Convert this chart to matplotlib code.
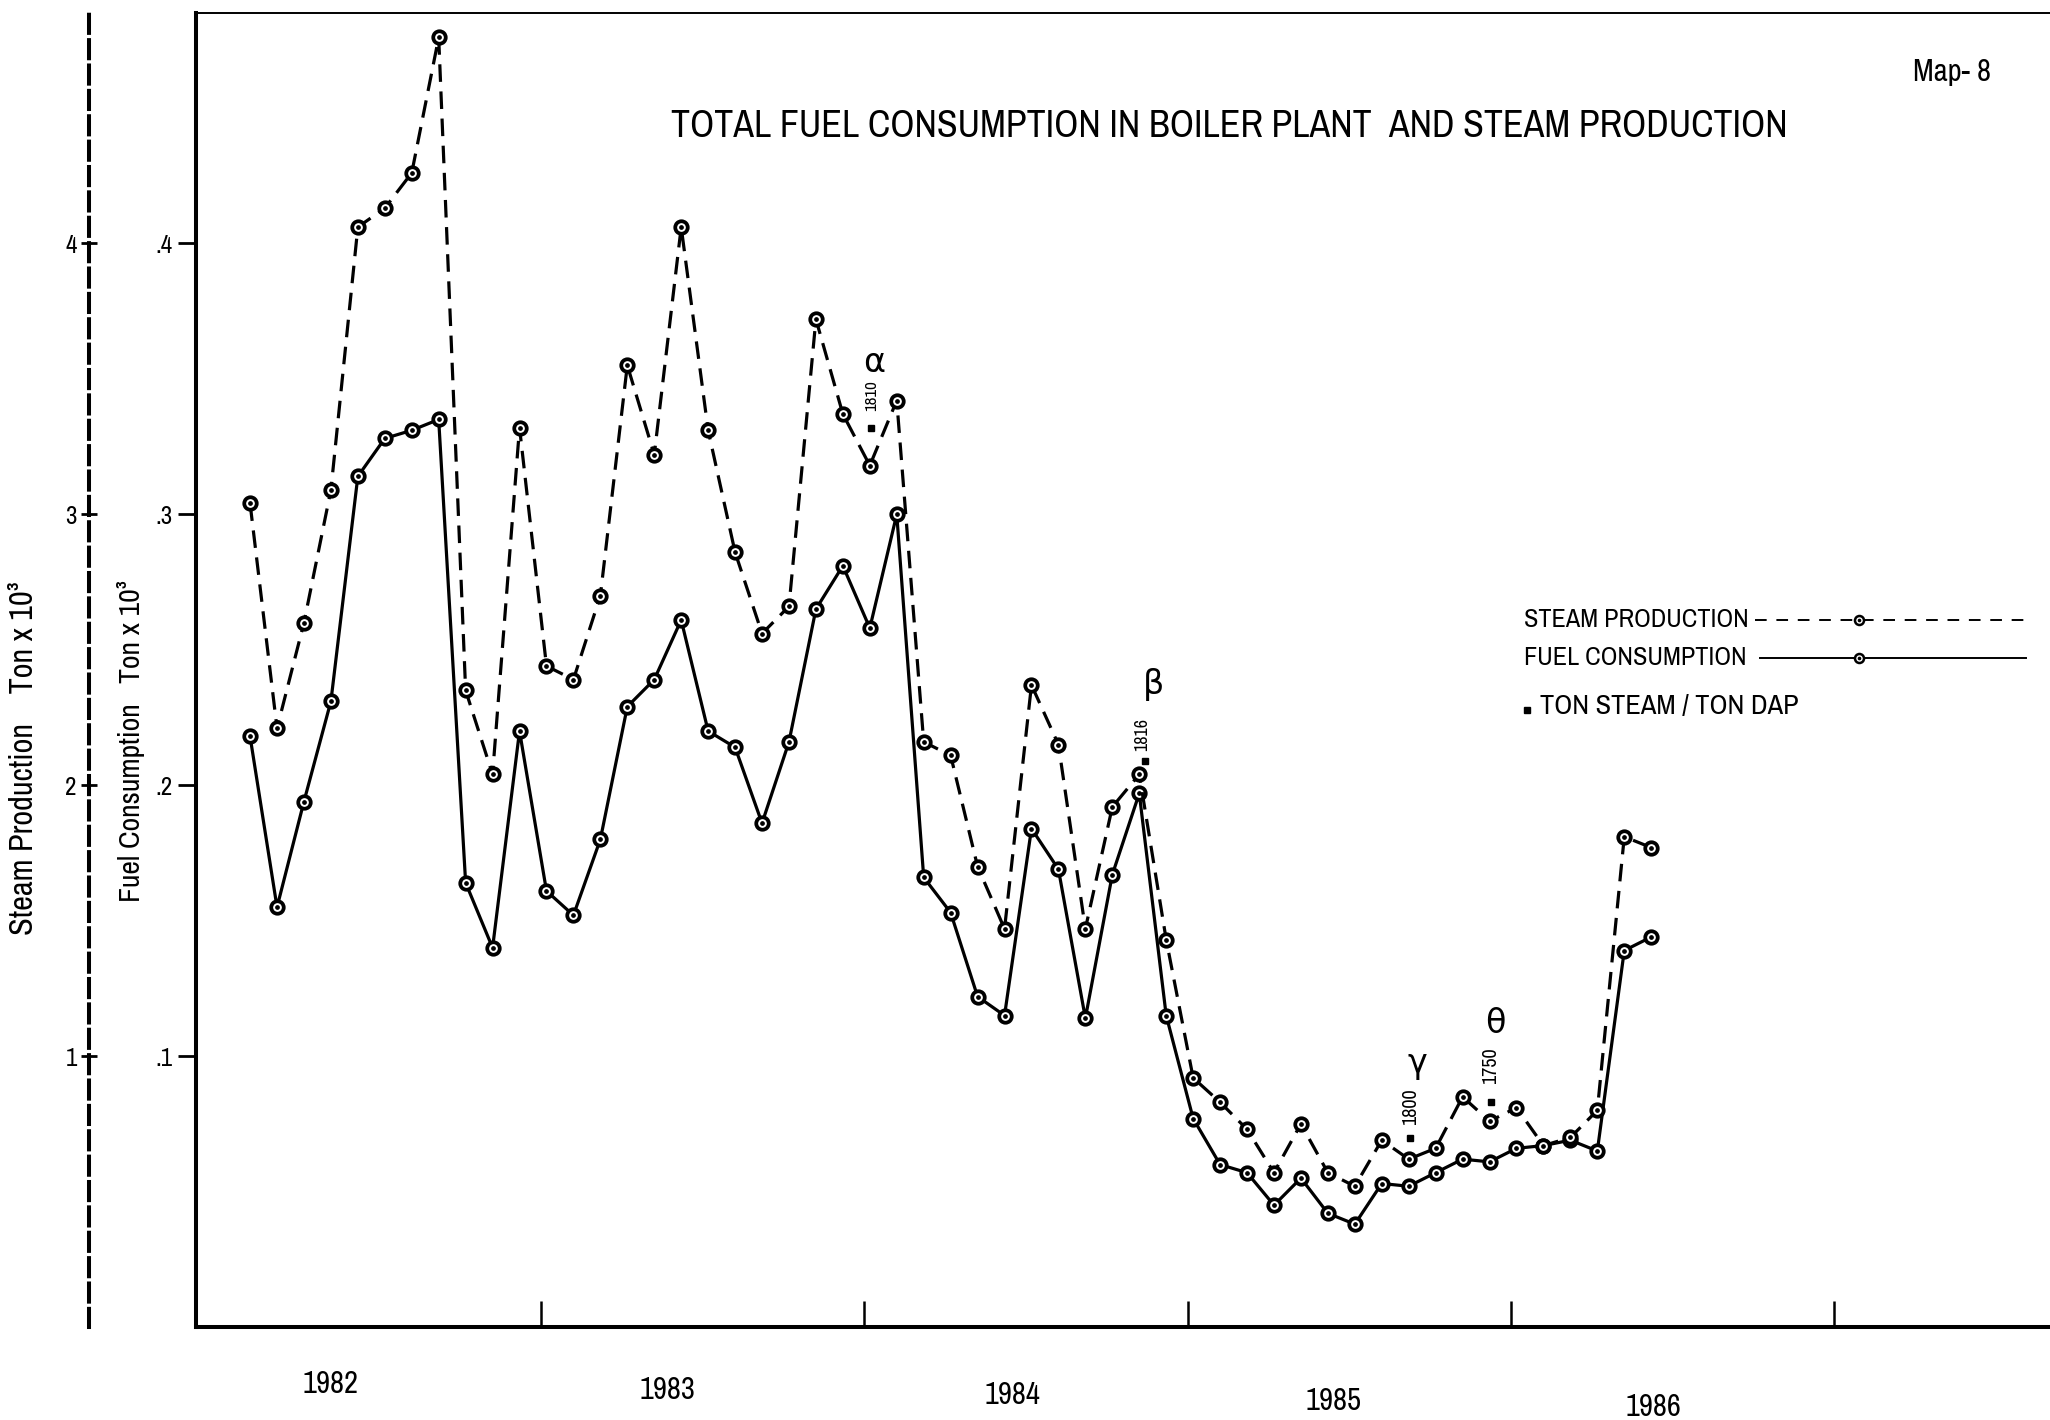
import numpy as np
import matplotlib
matplotlib.use('Agg')
import matplotlib.pyplot as plt
from matplotlib import font_manager
from matplotlib.lines import Line2D
from matplotlib.transforms import blended_transform_factory, ScaledTranslation

# monthly figures, 1982 - 1986, in thousand tons
steam = [3.04, 2.21, 2.60, 3.09, 4.06, 4.13, 4.26, 4.76, 2.35, 2.04,
         3.32, 2.44, 2.39, 2.70, 3.55, 3.22, 4.06, 3.31, 2.86, 2.56,
         2.66, 3.72, 3.37, 3.18, 3.42, 2.16, 2.11, 1.70, 1.47, 2.37,
         2.15, 1.47, 1.92, 2.04, 1.43, 0.92, 0.83, 0.73, 0.57, 0.75,
         0.57, 0.52, 0.69, 0.62, 0.66, 0.85, 0.76, 0.81, 0.67, 0.70,
         0.80, 1.81, 1.77]
fuel = [0.218, 0.155, 0.194, 0.231, 0.314, 0.328, 0.331, 0.335, 0.164, 0.140,
        0.220, 0.161, 0.152, 0.180, 0.229, 0.239, 0.261, 0.220, 0.214, 0.186,
        0.216, 0.265, 0.281, 0.258, 0.300, 0.166, 0.153, 0.122, 0.115, 0.184,
        0.169, 0.114, 0.167, 0.197, 0.115, 0.077, 0.060, 0.057, 0.045, 0.055,
        0.042, 0.038, 0.053, 0.052, 0.057, 0.062, 0.061, 0.066, 0.067, 0.069,
        0.065, 0.139, 0.144]

years = [1982, 1983, 1984, 1985, 1986]

# ton steam / ton DAP, noted against single months of the steam curve
dap_month = [23, 33, 43, 46]
dap_ratio = [1810, 1816, 1800, 1750]
dap_tag = ['α', 'β', 'γ', 'θ']

# lettering: a narrow / condensed face if one is installed
fonts = font_manager.fontManager.ttflist
face, stretch = None, 'normal'
for f in fonts:
    if ('Narrow' in f.name or 'Condensed' in f.name) and f.style == 'normal':
        face = f.name
        break
if face is None:
    for f in fonts:
        if f.stretch in ('condensed', 'semi-condensed') and f.style == 'normal':
            face, stretch = f.name, f.stretch
            break
if face is None:
    face = 'DejaVu Sans'
plt.rcParams['font.family'] = [face, 'DejaVu Sans']
plt.rcParams['font.stretch'] = stretch

month = np.arange(len(steam))
year_ticks = [10.8, 22.8, 34.8, 46.8, 58.8]
year_label_x = [3.0, 15.5, 28.3, 40.2, 52.1]

fig = plt.figure(figsize=(20.5, 14.2), dpi=100)
renderer = fig.canvas.get_renderer()


def fit(t, size_px, vertical=False):
    # scale the font so the text spans size_px pixels
    bb = t.get_window_extent(renderer=renderer)
    cur = bb.height if vertical else bb.width
    t.set_fontsize(t.get_fontsize() * size_px / cur)
    return t


ax = fig.add_axes([0.0957, 0.0654, 0.9043, 0.9254])
ax.set_xlim(-2.0, 66.8)
ax.set_ylim(0, 0.485)

ax2 = ax.twinx()
ax2.set_ylim(0, 4.85)

ring = dict(marker='o', ms=9, mew=2.7, mfc='white', mec='black', zorder=3)

# fuel: solid line, steam: dashed line, both with dotted rings
ax.plot(month, fuel, color='black', lw=2.3, **ring)
ax.plot(month, fuel, 'o', color='black', ms=2.4, zorder=4)

ax2.plot(month, steam, color='black', lw=2.3, ls=(0, (5.5, 3)), **ring)
ax2.plot(month, steam, 'o', color='black', ms=2.4, zorder=4)

# DAP ratio notes: small square, vertical number and greek tag
sq_off = [(1, 27), (4, 9.5), (1, 15.5), (1, 13.7)]
num_off = [(1, 50), (2, 29), (1, 38), (1, 40)]
tag_off = [(3, 74), (10, 65), (6, 68), (4, 70)]
num_len = [31, 33, 37, 37]
for i, m in enumerate(dap_month):
    xy = (month[m], steam[m])
    shift = ScaledTranslation(sq_off[i][0] / 72, sq_off[i][1] / 72, fig.dpi_scale_trans)
    ax2.plot([xy[0]], [xy[1]], 's', color='black', ms=5, transform=ax2.transData + shift)
    note = ax2.annotate(str(dap_ratio[i]), xy=xy, xytext=num_off[i], textcoords='offset points',
                        rotation=90, ha='center', va='center', fontsize=13, fontweight='bold')
    fit(note, num_len[i], vertical=True)
    ax2.annotate(dap_tag[i], xy=xy, xytext=tag_off[i], textcoords='offset points',
                 ha='center', va='center', fontsize=24)

# axes lines
ax.spines['right'].set_visible(False)
ax.spines['left'].set_linewidth(2.9)
ax.spines['bottom'].set_linewidth(2.9)
ax.spines['top'].set_linewidth(1.4)
for s in ['top', 'bottom', 'right']:
    ax2.spines[s].set_visible(False)
ax2.spines['left'].set_visible(True)
ax2.spines['left'].set_position(('outward', 77))
ax2.spines['left'].set_linestyle((0, (4.5, 1.8)))
ax2.spines['left'].set_linewidth(2.9)
ax2.yaxis.tick_left()

ax.set_yticks([0.1, 0.2, 0.3, 0.4])
ax.set_yticklabels(['.%d' % k for k in range(1, 5)])
ax.tick_params(axis='y', direction='out', length=13, width=2, pad=4, labelsize=18)
ax.set_xticks(year_ticks)
ax.set_xticklabels([])
ax.tick_params(axis='x', direction='in', length=19, width=1.8)

ax2.set_yticks([1, 2, 3, 4])
ax2.set_yticklabels([str(k) for k in range(1, 5)])
ax2.tick_params(axis='y', direction='inout', length=12, width=2, pad=3, labelsize=18)

# year names under the axis
trans = blended_transform_factory(ax.transData, ax.transAxes)
for k, (yr, xv) in enumerate(zip(years, year_label_x)):
    t = ax.text(xv, -0.043 - 0.0045 * k, str(yr), transform=trans,
                ha='center', va='center', fontsize=17)
    fit(t, 56)

fit(fig.text(0.5995, 0.911, 'TOTAL FUEL CONSUMPTION IN BOILER PLANT  AND STEAM PRODUCTION',
             ha='center', va='center', fontsize=26), 1117)
fit(fig.text(0.952, 0.949, 'Map- 8', ha='center', va='center', fontsize=15), 78)

fit(fig.text(0.0115, 0.466, 'Steam Production    Ton x 10³', rotation=90,
             ha='center', va='center', fontsize=17), 353, vertical=True)
fit(fig.text(0.0638, 0.478, 'Fuel Consumption   Ton x 10³', rotation=90,
             ha='center', va='center', fontsize=17), 322, vertical=True)

# legend, drawn by hand in figure coordinates
W, H = 1568.0, 1086.0
rows = [474, 503]
fit(fig.text(1166 / W, 1 - rows[0] / H, 'STEAM PRODUCTION', ha='left', va='center',
             fontsize=17), 224)
fit(fig.text(1166 / W, 1 - rows[1] / H, 'FUEL CONSUMPTION', ha='left', va='center',
             fontsize=17), 222)
legend_ring = dict(marker='o', markevery=[1], ms=6.5, mew=1.8, mfc='white', mec='black')
fig.add_artist(Line2D([1342 / W, 1422 / W, 1548 / W], [1 - rows[0] / H] * 3,
                      color='black', lw=1.4, ls=(0, (6, 5)), **legend_ring))
fig.add_artist(Line2D([1346 / W, 1422 / W, 1550 / W], [1 - rows[1] / H] * 3,
                      color='black', lw=1.4, **legend_ring))
for r in rows:
    fig.add_artist(Line2D([1422 / W], [1 - r / H], color='black', marker='o', ms=1.6, lw=0))
fig.add_artist(Line2D([1168 / W], [1 - 543 / H], color='black', marker='s', ms=4.5, lw=0))
fit(fig.text(1178 / W, 1 - 540 / H, 'TON STEAM / TON DAP', ha='left', va='center',
             fontsize=17), 258)

fig.savefig('out.png', dpi=100)
